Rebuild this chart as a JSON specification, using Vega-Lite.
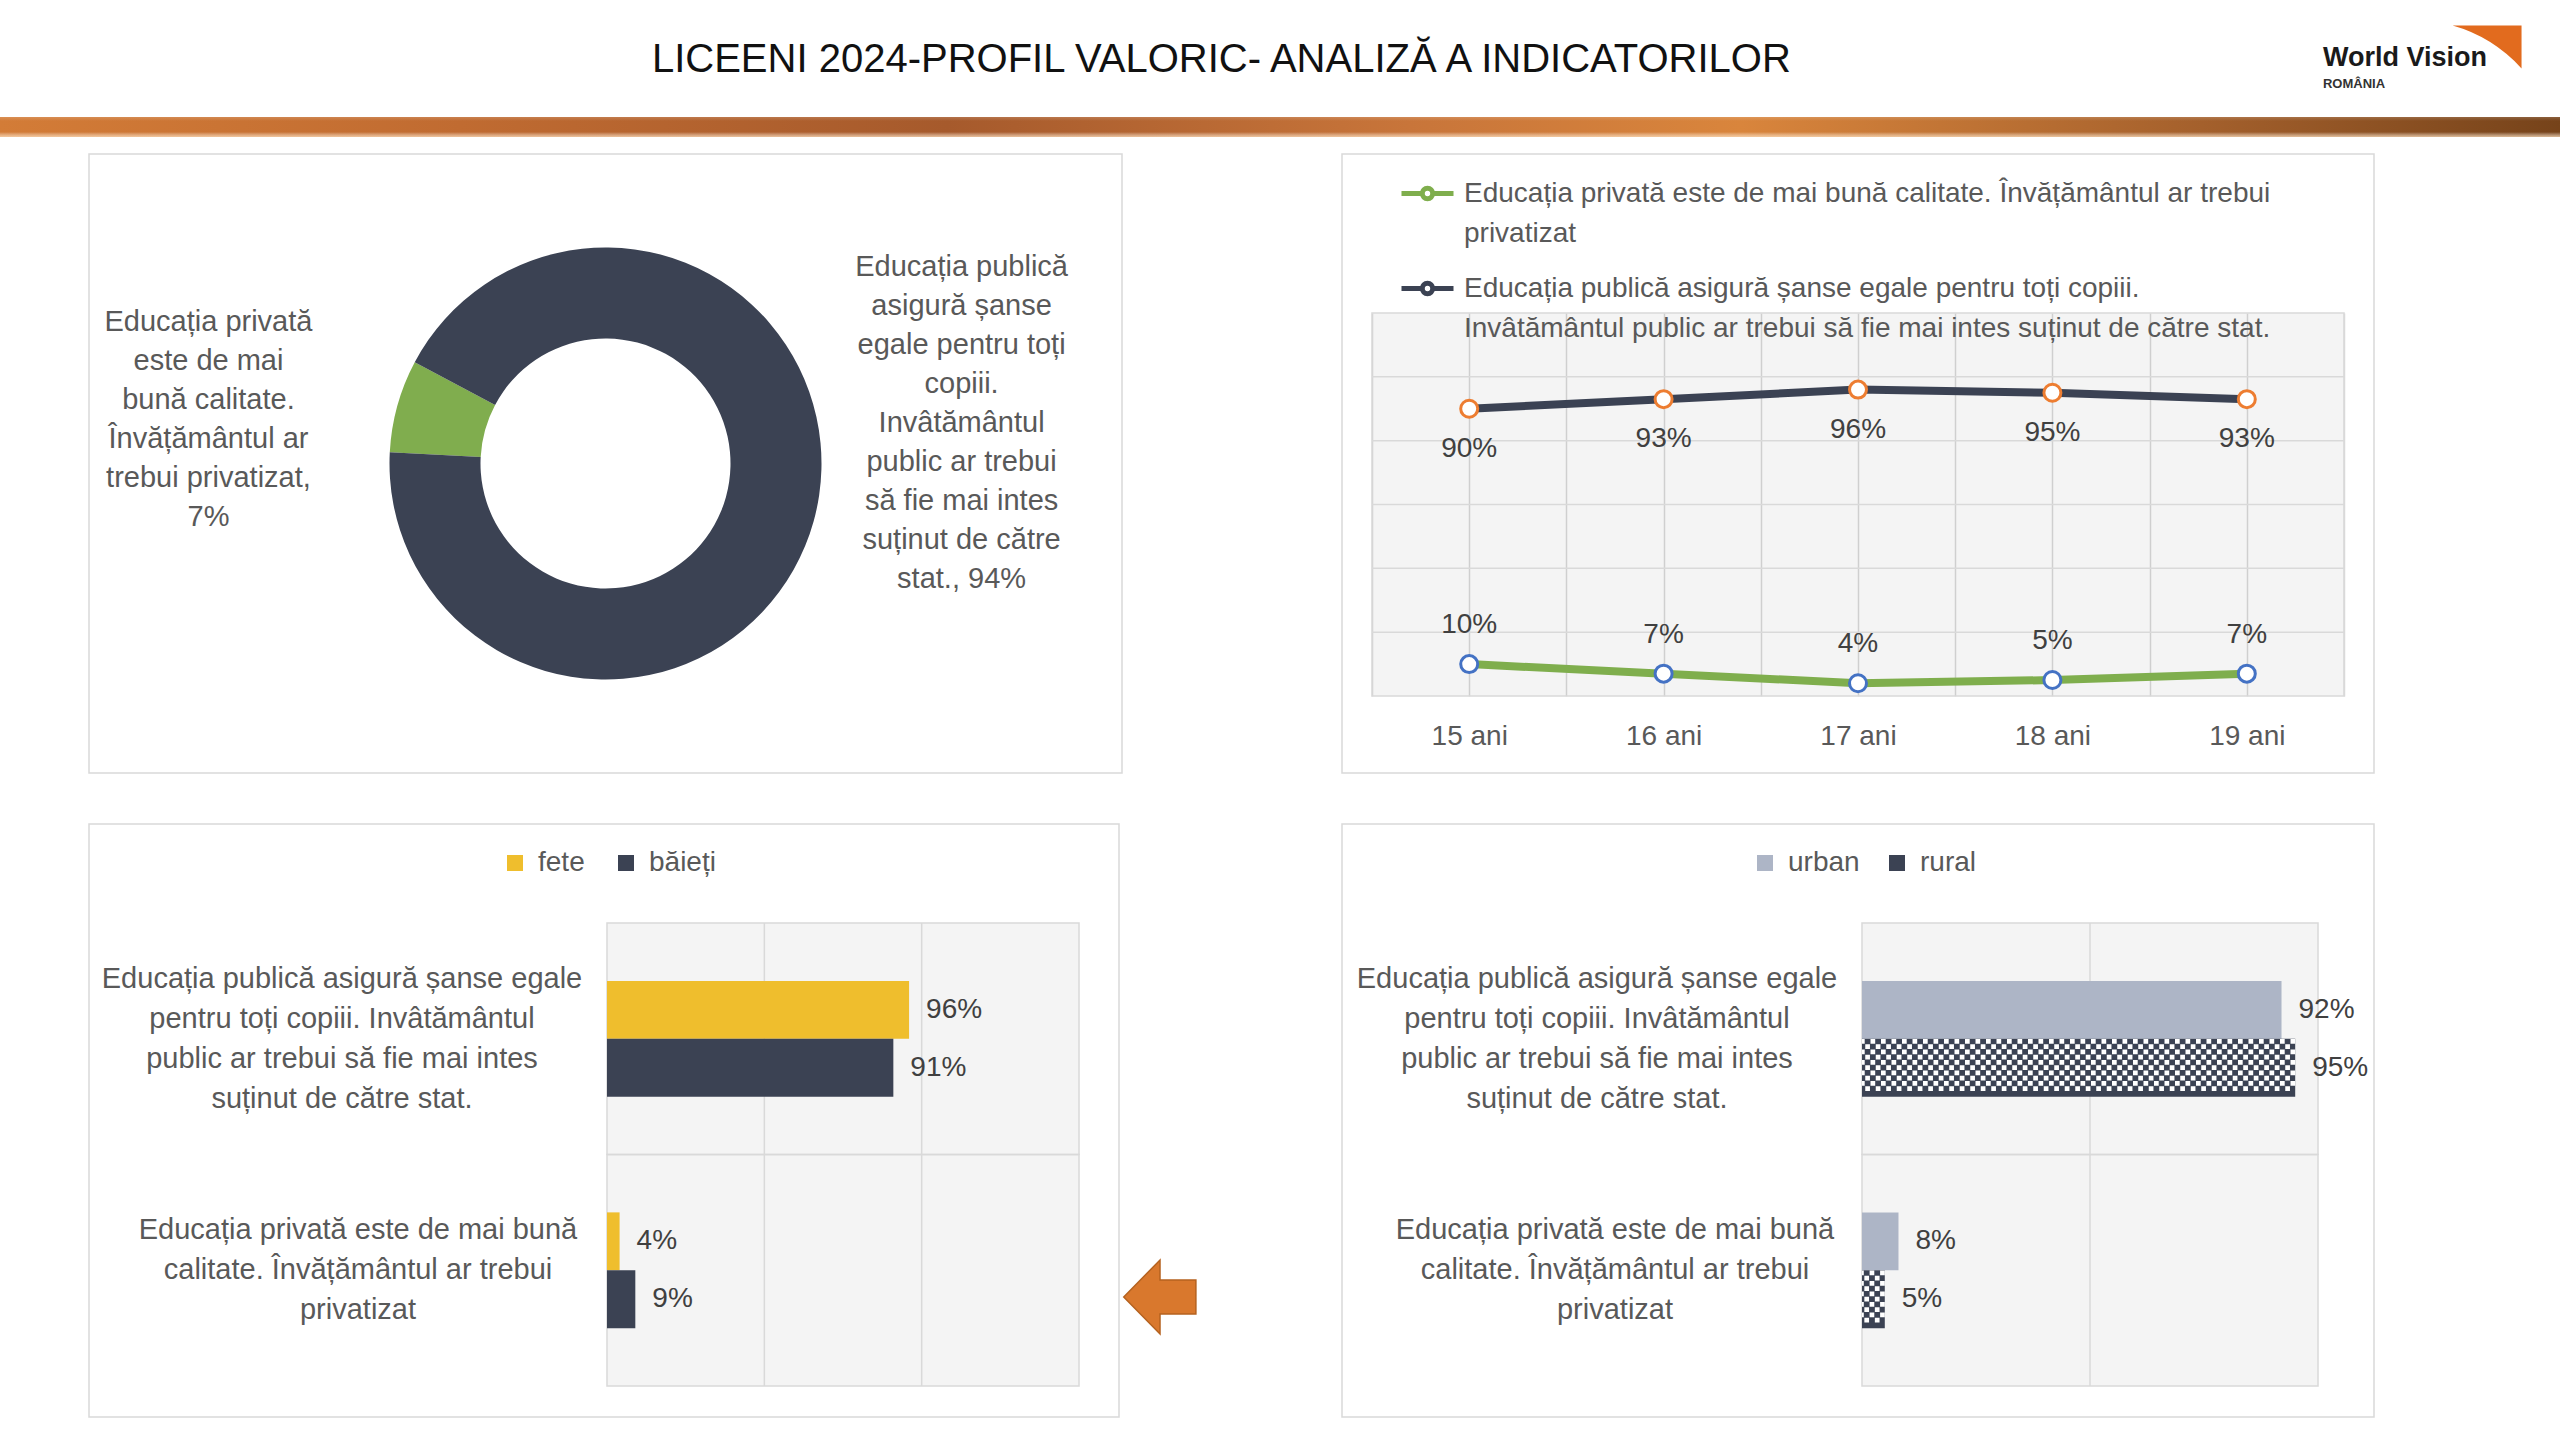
{
  "$schema": "https://vega.github.io/schema/vega-lite/v6.json",
  "background": "white",
  "padding": {"left": 0, "top": 25, "right": 0, "bottom": 0},
  "config": {
    "font": "Liberation Sans, Arial, sans-serif",
    "view": {"stroke": "#d9d9d9", "strokeWidth": 1.5},
    "axis": {"labelColor": "#595959", "gridColor": "#d9d9d9", "gridWidth": 1.5},
    "legend": {"labelColor": "#595959", "labelFontSize": 28},
    "style": {"guide-label": {"lineHeight": 40}},
    "concat": {"spacing": 0}
  },
  "resolve": {"scale": {"color": "independent", "stroke": "independent", "theta": "independent", "yOffset": "independent"}, "legend": {"color": "independent", "stroke": "independent"}},
  "spacing": 16,
  "vconcat": [
    {
      "width": 2560,
      "height": 20,
      "view": {"stroke": null},
      "data": {"values": [{"element": "antet"}]},
      "layer": [
        {
          "mark": {"type": "rect", "fill": {"gradient": "linear", "x1": 0, "y1": 0, "x2": 1, "y2": 0, "stops": [
            {"offset": 0, "color": "#d37c37"},
            {"offset": 0.18, "color": "#c06b31"},
            {"offset": 0.37, "color": "#a65a2c"},
            {"offset": 0.55, "color": "#c8753a"},
            {"offset": 0.68, "color": "#d9853c"},
            {"offset": 0.86, "color": "#a4602c"},
            {"offset": 1, "color": "#76431a"}]}},
          "encoding": {
            "x": {"datum": 0, "type": "quantitative", "scale": {"domain": [0, 1], "nice": false, "zero": false}, "axis": null},
            "x2": {"datum": 1},
            "y": {"datum": 0, "type": "quantitative", "scale": {"domain": [0, 1], "nice": false, "zero": false}, "axis": null},
            "y2": {"datum": 1}
          }
        },
        {
          "mark": {"type": "rect", "fill": {"gradient": "linear", "x1": 0, "y1": 0, "x2": 0, "y2": 1, "stops": [
            {"offset": 0, "color": "rgba(255,255,255,0.15)"},
            {"offset": 0.2, "color": "rgba(255,255,255,0)"},
            {"offset": 0.75, "color": "rgba(255,255,255,0)"},
            {"offset": 1, "color": "rgba(255,225,190,0.75)"}]}},
          "encoding": {
            "x": {"datum": 0, "type": "quantitative", "axis": null},
            "x2": {"datum": 1},
            "y": {"datum": 0, "type": "quantitative", "axis": null},
            "y2": {"datum": 1}
          }
        },
        {
          "mark": {"type": "text", "text": "LICEENI 2024-PROFIL VALORIC- ANALIZĂ A INDICATORILOR", "align": "center", "baseline": "middle", "fontSize": 40, "color": "#111111"},
          "encoding": {
            "x": {"datum": 0.4771, "type": "quantitative", "axis": null},
            "y": {"datum": 3.85, "type": "quantitative", "axis": null}
          }
        },
        {
          "mark": {"type": "text", "text": "World Vision", "align": "left", "baseline": "middle", "fontSize": 27, "fontWeight": "bold", "color": "#1a1a1a"},
          "encoding": {
            "x": {"datum": 0.9074, "type": "quantitative", "axis": null},
            "y": {"datum": 3.95, "type": "quantitative", "axis": null}
          }
        },
        {
          "mark": {"type": "text", "text": "ROMÂNIA", "align": "left", "baseline": "middle", "fontSize": 13, "fontWeight": "bold", "color": "#333333"},
          "encoding": {
            "x": {"datum": 0.9074, "type": "quantitative", "axis": null},
            "y": {"datum": 2.675, "type": "quantitative", "axis": null}
          }
        },
        {
          "mark": {"type": "point", "shape": "M-1,-0.62L1,-0.62L1,0.62Q0.15,-0.3 -1,-0.62Z", "size": 4761, "filled": true, "fill": "#e26b1e", "strokeWidth": 0, "opacity": 1},
          "encoding": {
            "x": {"datum": 0.9715, "type": "quantitative", "axis": null},
            "y": {"datum": 4.5, "type": "quantitative", "axis": null}
          }
        }
      ]
    },
    {
      "spacing": 49,
      "resolve": {"scale": {"color": "independent", "stroke": "independent", "theta": "independent", "yOffset": "independent"}, "legend": {"color": "independent", "stroke": "independent"}},
      "vconcat": [
        {
          "spacing": 0,
          "resolve": {"scale": {"color": "independent", "stroke": "independent", "theta": "independent", "yOffset": "independent"}, "legend": {"color": "independent", "stroke": "independent"}},
          "hconcat": [
            {"width": 88, "height": 10, "view": {"stroke": null}, "data": {"values": [{"gol": 1}]}, "mark": {"type": "point", "opacity": 0}, "encoding": {}},
            {
              "width": 1033,
              "height": 619,
              "view": {"stroke": "#d9d9d9", "strokeWidth": 1.5},
              "data": {"values": [
                {"categorie": "Educația privată este de mai bună calitate. Învățământul ar trebui privatizat", "procent": 0.07, "ordine": 1, "eticheta": "Educația privată\neste de mai\nbună calitate.\nÎnvățământul ar\ntrebui privatizat,\n7%"},
                {"categorie": "Educația publică asigură șanse egale pentru toți copiii. Invâtământul public ar trebui să fie mai intes suținut de către stat.", "procent": 0.94, "ordine": 2, "eticheta": "Educația publică\nasigură șanse\negale pentru toți\ncopiii.\nInvâtământul\npublic ar trebui\nsă fie mai intes\nsuținut de către\nstat., 94%"}
              ]},
              "layer": [
                {
                  "mark": {"type": "arc", "outerRadius": 216, "innerRadius": 125},
                  "encoding": {
                    "theta": {"field": "procent", "type": "quantitative", "stack": true, "scale": {"range": [4.765, 11.0482]}},
                    "order": {"field": "ordine", "type": "quantitative"},
                    "color": {"field": "categorie", "type": "nominal", "scale": {"range": ["#80ad4e", "#3b4253"], "domain": ["Educația privată este de mai bună calitate. Învățământul ar trebui privatizat", "Educația publică asigură șanse egale pentru toți copiii. Invâtământul public ar trebui să fie mai intes suținut de către stat."]}, "legend": null}
                  }
                },
                {
                  "transform": [{"filter": "datum.ordine == 1"}],
                  "mark": {"type": "text", "radius": 412, "dy": -31, "lineBreak": "\n", "lineHeight": 39, "fontSize": 29, "align": "center", "baseline": "middle", "color": "#595959"},
                  "encoding": {
                    "theta": {"field": "procent", "type": "quantitative", "stack": true},
                    "text": {"field": "eticheta", "type": "nominal"}
                  }
                },
                {
                  "transform": [{"filter": "datum.ordine == 2"}],
                  "mark": {"type": "text", "radius": 361, "dy": -137, "lineBreak": "\n", "lineHeight": 39, "fontSize": 29, "align": "center", "baseline": "middle", "color": "#595959"},
                  "encoding": {
                    "theta": {"field": "procent", "type": "quantitative", "stack": true},
                    "text": {"field": "eticheta", "type": "nominal"}
                  }
                }
              ]
            },
            {"width": 218, "height": 10, "view": {"stroke": null}, "data": {"values": [{"gol": 1}]}, "mark": {"type": "point", "opacity": 0}, "encoding": {}},
            {
              "width": 1032,
              "height": 619,
              "data": {"values": [
                {"varsta": 15, "serie": "Educația privată este de mai bună calitate. Învățământul ar trebui\nprivatizat", "procent": 0.10},
                {"varsta": 16, "serie": "Educația privată este de mai bună calitate. Învățământul ar trebui\nprivatizat", "procent": 0.07},
                {"varsta": 17, "serie": "Educația privată este de mai bună calitate. Învățământul ar trebui\nprivatizat", "procent": 0.04},
                {"varsta": 18, "serie": "Educația privată este de mai bună calitate. Învățământul ar trebui\nprivatizat", "procent": 0.05},
                {"varsta": 19, "serie": "Educația privată este de mai bună calitate. Învățământul ar trebui\nprivatizat", "procent": 0.07},
                {"varsta": 15, "serie": "Educația publică asigură șanse egale pentru toți copiii.\nInvâtământul public ar trebui să fie mai intes suținut de către stat.", "procent": 0.90},
                {"varsta": 16, "serie": "Educația publică asigură șanse egale pentru toți copiii.\nInvâtământul public ar trebui să fie mai intes suținut de către stat.", "procent": 0.93},
                {"varsta": 17, "serie": "Educația publică asigură șanse egale pentru toți copiii.\nInvâtământul public ar trebui să fie mai intes suținut de către stat.", "procent": 0.96},
                {"varsta": 18, "serie": "Educația publică asigură șanse egale pentru toți copiii.\nInvâtământul public ar trebui să fie mai intes suținut de către stat.", "procent": 0.95},
                {"varsta": 19, "serie": "Educația publică asigură șanse egale pentru toți copiii.\nInvâtământul public ar trebui să fie mai intes suținut de către stat.", "procent": 0.93}
              ]},
              "layer": [
                {
                  "data": {"values": [{"fundal": "grilă"}]},
                  "mark": {"type": "rect", "fill": "#000000", "fillOpacity": 0.045, "stroke": "#d9d9d9", "strokeWidth": 1.5},
                  "encoding": {
                    "x": {"datum": 14.5, "type": "quantitative", "axis": null},
                    "x2": {"datum": 19.5},
                    "y": {"datum": 0, "type": "quantitative", "axis": null},
                    "y2": {"datum": 1.2}
                  }
                },
                {
                  "data": {"values": [{"nivel": 0.2}, {"nivel": 0.4}, {"nivel": 0.6}, {"nivel": 0.8}, {"nivel": 1.0}]},
                  "mark": {"type": "rule", "stroke": "#d9d9d9", "strokeWidth": 1.5},
                  "encoding": {
                    "y": {"field": "nivel", "type": "quantitative", "axis": null},
                    "x": {"datum": 14.5, "type": "quantitative", "axis": null},
                    "x2": {"datum": 19.5}
                  }
                },
                {
                  "mark": {"type": "line", "strokeWidth": 8},
                  "encoding": {
                    "x": {"field": "varsta", "type": "quantitative", "scale": {"domain": [14.5, 19.5], "range": [30, 1002], "nice": false, "zero": false},
                      "axis": {"orient": "top", "values": [14.5, 15, 15.5, 16, 16.5, 17, 17.5, 18, 18.5, 19, 19.5], "grid": true, "labels": false, "ticks": false, "domain": false, "title": null}},
                    "y": {"field": "procent", "type": "quantitative", "scale": {"domain": [0, 1.2], "range": [542, 159], "nice": false}, "axis": null},
                    "color": {"field": "serie", "type": "nominal", "scale": {"range": ["#7fae4d", "#3b4253"]},
                      "legend": {"orient": "none", "legendX": 57, "legendY": 11, "direction": "vertical", "title": null, "symbolType": "M-1,0L-0.2,0M0.2,0L1,0M0.2,0A0.2,0.2 0 1 1 -0.2,0A0.2,0.2 0 1 1 0.2,0Z", "symbolFillColor": "white", "symbolStrokeWidth": 5, "symbolSize": 2704, "labelOffset": 8, "labelLimit": 1200, "labelFontSize": 28, "rowPadding": 12, "labelExpr": "split(datum.label, '\\n')"}}
                  }
                },
                {
                  "mark": {"type": "point", "filled": true, "fill": "white", "size": 289, "strokeWidth": 3, "opacity": 1},
                  "encoding": {
                    "x": {"field": "varsta", "type": "quantitative",
                      "axis": {"orient": "bottom", "offset": -77, "values": [15, 16, 17, 18, 19], "labelExpr": "datum.value + ' ani'", "grid": false, "domain": false, "ticks": false, "labelPadding": 26, "labelFontSize": 28, "title": null}},
                    "y": {"field": "procent", "type": "quantitative", "axis": null},
                    "stroke": {"field": "serie", "type": "nominal", "scale": {"range": ["#4472c4", "#ed7d31"]}, "legend": null}
                  }
                },
                {
                  "transform": [{"filter": "datum.procent < 0.5"}],
                  "mark": {"type": "text", "dy": -39, "fontSize": 28, "color": "#404040", "align": "center", "baseline": "middle"},
                  "encoding": {
                    "x": {"field": "varsta", "type": "quantitative", "axis": null},
                    "y": {"field": "procent", "type": "quantitative", "axis": null},
                    "text": {"field": "procent", "type": "quantitative", "format": ".0%"}
                  }
                },
                {
                  "transform": [{"filter": "datum.procent >= 0.5"}],
                  "mark": {"type": "text", "dy": 40, "fontSize": 28, "color": "#404040", "align": "center", "baseline": "middle"},
                  "encoding": {
                    "x": {"field": "varsta", "type": "quantitative", "axis": null},
                    "y": {"field": "procent", "type": "quantitative", "axis": null},
                    "text": {"field": "procent", "type": "quantitative", "format": ".0%"}
                  }
                }
              ]
            }
          ]
        },
        {
          "spacing": 0,
          "resolve": {"scale": {"color": "independent", "stroke": "independent", "theta": "independent", "yOffset": "independent"}, "legend": {"color": "independent", "stroke": "independent"}},
          "hconcat": [
            {"width": 88, "height": 10, "view": {"stroke": null}, "data": {"values": [{"gol": 1}]}, "mark": {"type": "point", "opacity": 0}, "encoding": {}},
            {
              "width": 1030,
              "height": 593,
              "data": {"values": [
                {"intrebare": "Educația publică asigură șanse egale\npentru  toți copiii. Invâtământul\npublic ar trebui să fie mai intes\nsuținut de către stat.", "serie": "fete", "procent": 0.96},
                {"intrebare": "Educația publică asigură șanse egale\npentru  toți copiii. Invâtământul\npublic ar trebui să fie mai intes\nsuținut de către stat.", "serie": "băieți", "procent": 0.91},
                {"intrebare": "Educația privată este de mai bună\ncalitate. Învățământul ar trebui\nprivatizat", "serie": "fete", "procent": 0.04},
                {"intrebare": "Educația privată este de mai bună\ncalitate. Învățământul ar trebui\nprivatizat", "serie": "băieți", "procent": 0.09}
              ]},
              "layer": [
                {
                  "transform": [{"filter": "datum.serie == 'fete'"}],
                  "mark": {"type": "rect", "fill": "#000000", "fillOpacity": 0.045, "stroke": "#d9d9d9", "strokeWidth": 1.5},
                  "encoding": {
                    "y": {"field": "intrebare", "type": "nominal", "sort": null,
                      "scale": {"range": [99, 562], "paddingInner": 0, "paddingOuter": 0}, "axis": null},
                    "x": {"datum": 0, "type": "quantitative", "scale": {"domain": [0, 1.5], "range": [518, 990], "nice": false}, "axis": null},
                    "x2": {"datum": 1.5}
                  }
                },
                {
                  "transform": [{"filter": "datum.serie == 'fete'"}],
                  "mark": {"type": "rect", "fill": "transparent", "stroke": "#d9d9d9", "strokeWidth": 1.5},
                  "encoding": {
                    "y": {"field": "intrebare", "type": "nominal", "sort": null, "axis": null},
                    "x": {"datum": 0.5, "type": "quantitative", "axis": null},
                    "x2": {"datum": 0.5}
                  }
                },
                {
                  "transform": [{"filter": "datum.serie == 'fete'"}],
                  "mark": {"type": "rect", "fill": "transparent", "stroke": "#d9d9d9", "strokeWidth": 1.5},
                  "encoding": {
                    "y": {"field": "intrebare", "type": "nominal", "sort": null, "axis": null},
                    "x": {"datum": 1, "type": "quantitative", "axis": null},
                    "x2": {"datum": 1}
                  }
                },
                {
                  "transform": [{"filter": "datum.serie == 'fete' && indexof(datum.intrebare, 'publică') >= 0"}],
                  "mark": {"type": "text", "align": "center", "baseline": "middle", "dx": -265, "dy": -60, "lineBreak": "\n", "lineHeight": 40, "fontSize": 29, "color": "#595959"},
                  "encoding": {
                    "y": {"field": "intrebare", "type": "nominal", "sort": null, "axis": null},
                    "x": {"datum": 0, "type": "quantitative", "axis": null},
                    "text": {"field": "intrebare", "type": "nominal"}
                  }
                },
                {
                  "transform": [{"filter": "datum.serie == 'fete' && indexof(datum.intrebare, 'privată') >= 0"}],
                  "mark": {"type": "text", "align": "center", "baseline": "middle", "dx": -249, "dy": -40, "lineBreak": "\n", "lineHeight": 40, "fontSize": 29, "color": "#595959"},
                  "encoding": {
                    "y": {"field": "intrebare", "type": "nominal", "sort": null, "axis": null},
                    "x": {"datum": 0, "type": "quantitative", "axis": null},
                    "text": {"field": "intrebare", "type": "nominal"}
                  }
                },
                {
                  "mark": {"type": "bar"},
                  "encoding": {
                    "y": {"field": "intrebare", "type": "nominal", "sort": null, "axis": null},
                    "yOffset": {"field": "serie", "type": "nominal", "sort": ["fete", "băieți"], "scale": {"domain": ["fete", "băieți"], "paddingInner": 0, "paddingOuter": 1.2048}},
                    "x": {"field": "procent", "type": "quantitative", "axis": null},
                    "color": {"field": "serie", "type": "nominal", "sort": ["fete", "băieți"], "scale": {"domain": ["fete", "băieți"], "range": ["#efbe2d", "#3b4253"]},
                      "legend": {"orient": "none", "legendX": 412, "legendY": 25, "direction": "horizontal", "title": null, "symbolType": "square", "symbolSize": 256, "symbolStrokeWidth": 0, "labelOffset": 9, "columnPadding": 27, "labelFontSize": 28}}
                  }
                },
                {
                  "mark": {"type": "text", "align": "left", "baseline": "middle", "dx": 17, "fontSize": 28, "color": "#404040"},
                  "encoding": {
                    "y": {"field": "intrebare", "type": "nominal", "sort": null, "axis": null},
                    "yOffset": {"field": "serie", "type": "nominal", "sort": ["fete", "băieți"]},
                    "x": {"field": "procent", "type": "quantitative", "axis": null},
                    "text": {"field": "procent", "type": "quantitative", "format": ".0%"}
                  }
                }
              ]
            },
            {
              "spacing": 0,
              "resolve": {"scale": {"color": "independent", "stroke": "independent", "theta": "independent", "yOffset": "independent"}, "legend": {"color": "independent", "stroke": "independent"}},
              "vconcat": [
                {"width": 78, "height": 433, "view": {"stroke": null}, "data": {"values": [{"gol": 1}]}, "mark": {"type": "point", "opacity": 0}, "encoding": {}},
                {
                  "width": 78,
                  "height": 74,
                  "view": {"stroke": null},
                  "data": {"values": [{"simbol": "săgeată"}]},
                  "mark": {"type": "point", "shape": "M-0.98,0L0,-1L0,-0.46L0.97,-0.46L0.97,0.46L0,0.46L0,1Z", "size": 5476, "filled": true, "fill": "#d9782d", "stroke": "#b5621f", "strokeWidth": 1.5, "opacity": 1},
                  "encoding": {}
                }
              ]
            },
            {"width": 142, "height": 10, "view": {"stroke": null}, "data": {"values": [{"gol": 1}]}, "mark": {"type": "point", "opacity": 0}, "encoding": {}},
            {
              "width": 1032,
              "height": 593,
              "data": {"values": [
                {"intrebare": "Educația publică asigură șanse egale\npentru  toți copiii. Invâtământul\npublic ar trebui să fie mai intes\nsuținut de către stat.", "serie": "urban", "procent": 0.92},
                {"intrebare": "Educația publică asigură șanse egale\npentru  toți copiii. Invâtământul\npublic ar trebui să fie mai intes\nsuținut de către stat.", "serie": "rural", "procent": 0.95},
                {"intrebare": "Educația privată este de mai bună\ncalitate. Învățământul ar trebui\nprivatizat", "serie": "urban", "procent": 0.08},
                {"intrebare": "Educația privată este de mai bună\ncalitate. Învățământul ar trebui\nprivatizat", "serie": "rural", "procent": 0.05}
              ]},
              "layer": [
                {
                  "transform": [{"filter": "datum.serie == 'urban'"}],
                  "mark": {"type": "rect", "fill": "#000000", "fillOpacity": 0.045, "stroke": "#d9d9d9", "strokeWidth": 1.5},
                  "encoding": {
                    "y": {"field": "intrebare", "type": "nominal", "sort": null,
                      "scale": {"range": [99, 562], "paddingInner": 0, "paddingOuter": 0}, "axis": null},
                    "x": {"datum": 0, "type": "quantitative", "scale": {"domain": [0, 1], "range": [520, 976], "nice": false}, "axis": null},
                    "x2": {"datum": 1}
                  }
                },
                {
                  "transform": [{"filter": "datum.serie == 'urban'"}],
                  "mark": {"type": "rect", "fill": "transparent", "stroke": "#d9d9d9", "strokeWidth": 1.5},
                  "encoding": {
                    "y": {"field": "intrebare", "type": "nominal", "sort": null, "axis": null},
                    "x": {"datum": 0.5, "type": "quantitative", "axis": null},
                    "x2": {"datum": 0.5}
                  }
                },
                {
                  "transform": [{"filter": "datum.serie == 'urban' && indexof(datum.intrebare, 'publică') >= 0"}],
                  "mark": {"type": "text", "align": "center", "baseline": "middle", "dx": -265, "dy": -60, "lineBreak": "\n", "lineHeight": 40, "fontSize": 29, "color": "#595959"},
                  "encoding": {
                    "y": {"field": "intrebare", "type": "nominal", "sort": null, "axis": null},
                    "x": {"datum": 0, "type": "quantitative", "axis": null},
                    "text": {"field": "intrebare", "type": "nominal"}
                  }
                },
                {
                  "transform": [{"filter": "datum.serie == 'urban' && indexof(datum.intrebare, 'privată') >= 0"}],
                  "mark": {"type": "text", "align": "center", "baseline": "middle", "dx": -247, "dy": -40, "lineBreak": "\n", "lineHeight": 40, "fontSize": 29, "color": "#595959"},
                  "encoding": {
                    "y": {"field": "intrebare", "type": "nominal", "sort": null, "axis": null},
                    "x": {"datum": 0, "type": "quantitative", "axis": null},
                    "text": {"field": "intrebare", "type": "nominal"}
                  }
                },
                {
                  "mark": {"type": "bar"},
                  "encoding": {
                    "y": {"field": "intrebare", "type": "nominal", "sort": null, "axis": null},
                    "yOffset": {"field": "serie", "type": "nominal", "sort": ["urban", "rural"], "scale": {"domain": ["urban", "rural"], "paddingInner": 0, "paddingOuter": 1.2048}},
                    "x": {"field": "procent", "type": "quantitative", "axis": null},
                    "color": {"field": "serie", "type": "nominal", "sort": ["urban", "rural"], "scale": {"domain": ["urban", "rural"], "range": ["#adb5c6", "#3b4253"]},
                      "legend": {"orient": "none", "legendX": 409, "legendY": 25, "direction": "horizontal", "title": null, "symbolType": "square", "symbolSize": 256, "symbolStrokeWidth": 0, "labelOffset": 9, "columnPadding": 23, "labelFontSize": 28}}
                  }
                },
                {"transform": [{"filter": "datum.serie == 'rural'"}], "mark": {"type": "rule", "stroke": "white", "strokeWidth": 4.8, "strokeDash": [4.7, 5.8], "strokeDashOffset": 0, "strokeCap": "butt"},
                  "encoding": {"y": {"field": "intrebare", "type": "nominal", "sort": null, "bandPosition": 0.51157, "axis": null}, "x": {"field": "procent", "type": "quantitative", "axis": null}, "x2": {"datum": 0}}},
                {"transform": [{"filter": "datum.serie == 'rural'"}], "mark": {"type": "rule", "stroke": "white", "strokeWidth": 4.8, "strokeDash": [4.7, 5.8], "strokeDashOffset": 5.25, "strokeCap": "butt"},
                  "encoding": {"y": {"field": "intrebare", "type": "nominal", "sort": null, "bandPosition": 0.53426, "axis": null}, "x": {"field": "procent", "type": "quantitative", "axis": null}, "x2": {"datum": 0}}},
                {"transform": [{"filter": "datum.serie == 'rural'"}], "mark": {"type": "rule", "stroke": "white", "strokeWidth": 4.8, "strokeDash": [4.7, 5.8], "strokeDashOffset": 0, "strokeCap": "butt"},
                  "encoding": {"y": {"field": "intrebare", "type": "nominal", "sort": null, "bandPosition": 0.55695, "axis": null}, "x": {"field": "procent", "type": "quantitative", "axis": null}, "x2": {"datum": 0}}},
                {"transform": [{"filter": "datum.serie == 'rural'"}], "mark": {"type": "rule", "stroke": "white", "strokeWidth": 4.8, "strokeDash": [4.7, 5.8], "strokeDashOffset": 5.25, "strokeCap": "butt"},
                  "encoding": {"y": {"field": "intrebare", "type": "nominal", "sort": null, "bandPosition": 0.57964, "axis": null}, "x": {"field": "procent", "type": "quantitative", "axis": null}, "x2": {"datum": 0}}},
                {"transform": [{"filter": "datum.serie == 'rural'"}], "mark": {"type": "rule", "stroke": "white", "strokeWidth": 4.8, "strokeDash": [4.7, 5.8], "strokeDashOffset": 0, "strokeCap": "butt"},
                  "encoding": {"y": {"field": "intrebare", "type": "nominal", "sort": null, "bandPosition": 0.60232, "axis": null}, "x": {"field": "procent", "type": "quantitative", "axis": null}, "x2": {"datum": 0}}},
                {"transform": [{"filter": "datum.serie == 'rural'"}], "mark": {"type": "rule", "stroke": "white", "strokeWidth": 4.8, "strokeDash": [4.7, 5.8], "strokeDashOffset": 5.25, "strokeCap": "butt"},
                  "encoding": {"y": {"field": "intrebare", "type": "nominal", "sort": null, "bandPosition": 0.62501, "axis": null}, "x": {"field": "procent", "type": "quantitative", "axis": null}, "x2": {"datum": 0}}},
                {"transform": [{"filter": "datum.serie == 'rural'"}], "mark": {"type": "rule", "stroke": "white", "strokeWidth": 4.8, "strokeDash": [4.7, 5.8], "strokeDashOffset": 0, "strokeCap": "butt"},
                  "encoding": {"y": {"field": "intrebare", "type": "nominal", "sort": null, "bandPosition": 0.6477, "axis": null}, "x": {"field": "procent", "type": "quantitative", "axis": null}, "x2": {"datum": 0}}},
                {"transform": [{"filter": "datum.serie == 'rural'"}], "mark": {"type": "rule", "stroke": "white", "strokeWidth": 4.8, "strokeDash": [4.7, 5.8], "strokeDashOffset": 5.25, "strokeCap": "butt"},
                  "encoding": {"y": {"field": "intrebare", "type": "nominal", "sort": null, "bandPosition": 0.67039, "axis": null}, "x": {"field": "procent", "type": "quantitative", "axis": null}, "x2": {"datum": 0}}},
                {"transform": [{"filter": "datum.serie == 'rural'"}], "mark": {"type": "rule", "stroke": "white", "strokeWidth": 4.8, "strokeDash": [4.7, 5.8], "strokeDashOffset": 0, "strokeCap": "butt"},
                  "encoding": {"y": {"field": "intrebare", "type": "nominal", "sort": null, "bandPosition": 0.69307, "axis": null}, "x": {"field": "procent", "type": "quantitative", "axis": null}, "x2": {"datum": 0}}},
                {"transform": [{"filter": "datum.serie == 'rural'"}], "mark": {"type": "rule", "stroke": "white", "strokeWidth": 4.8, "strokeDash": [4.7, 5.8], "strokeDashOffset": 5.25, "strokeCap": "butt"},
                  "encoding": {"y": {"field": "intrebare", "type": "nominal", "sort": null, "bandPosition": 0.71576, "axis": null}, "x": {"field": "procent", "type": "quantitative", "axis": null}, "x2": {"datum": 0}}},
                {
                  "mark": {"type": "text", "align": "left", "baseline": "middle", "dx": 17, "fontSize": 28, "color": "#404040"},
                  "encoding": {
                    "y": {"field": "intrebare", "type": "nominal", "sort": null, "axis": null},
                    "yOffset": {"field": "serie", "type": "nominal", "sort": ["urban", "rural"]},
                    "x": {"field": "procent", "type": "quantitative", "axis": null},
                    "text": {"field": "procent", "type": "quantitative", "format": ".0%"}
                  }
                }
              ]
            }
          ]
        }
      ]
    }
  ]
}
